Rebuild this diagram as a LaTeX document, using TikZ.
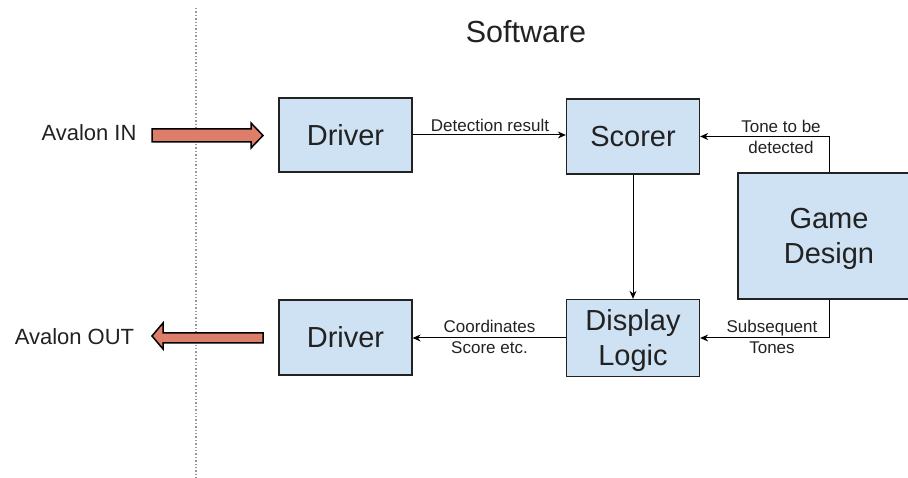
\documentclass[tikz,border=0pt]{standalone}
\usepackage{fontspec}
\setmainfont{Liberation Sans}
\usetikzlibrary{arrows.meta}
\definecolor{boxblue}{HTML}{CFE2F3}
\definecolor{berry}{HTML}{DD7E6B}
\definecolor{ink}{HTML}{222222}
\newcommand\lowtwo[1]{\raisebox{0pt}[\dimexpr\height+7pt\relax][\depth]{\begin{tabular}{@{}c@{}}#1\end{tabular}}}
\begin{document}
\begin{tikzpicture}[x=1pt,y=1pt,
  blk/.style={draw=ink,line width=1.3pt,fill=boxblue,inner sep=0pt,align=center,
    text=ink,font=\fontsize{29}{35}\selectfont,minimum width=133pt,minimum height=75pt},
  lbl/.style={inner sep=0pt,align=center,text=ink,font=\fontsize{17}{21}\selectfont},
  big/.style={inner sep=0pt,text=ink,font=\fontsize{22}{26}\selectfont},
  conn/.style={draw=black,line width=1pt,-{Stealth[length=8pt,width=7pt]}},
  fat/.style={draw=black,line width=1.5pt,fill=berry,line join=miter}]
\clip (0,0) rectangle (908,478);
\fill[white] (0,0) rectangle (908,478);
% dotted separator
\draw[draw=gray!80,line width=1.4pt,dash pattern=on 1.4pt off 2pt] (196,478-8) -- (196,0);
% title
\node[inner sep=0pt,text=ink,font=\fontsize{30.5}{36}\selectfont] (title) at (526,446) {Software};
% boxes
\node[blk,minimum height=74pt] (drv1) at (345.5,343) {Driver};
\node[blk] (scorer) at (633,341.5) {Scorer};
\node[blk,minimum width=182pt,minimum height=126pt] (game) at (829,242) {\lowtwo{Game\\Design}};
\node[blk] (drv2) at (345.5,140.5) {Driver};
\node[blk,minimum height=76pt] (disp) at (633,140) {\lowtwo{Display\\Logic}};
% connectors
\draw[conn] (drv1.east) -- (drv1.east -| scorer.west);
\draw[conn] (game.north) |- (scorer.east);
\draw[conn] (scorer.south) -- (disp.north);
\draw[conn] (game.south) |- (disp.east);
\draw[conn] (disp.west) -- (disp.west -| drv2.east);
% labels
\node[lbl] (l1) at (490,353) {Detection result};
\node[lbl] (l2) at (781,341.5) {Tone to be\\detected};
\node[lbl] (l3) at (489.5,141) {Coordinates\\Score etc.};
\node[lbl] (l4) at (772,141) {Subsequent\\Tones};
% avalon
\node[big] (ain) at (89,345) {Avalon IN};
\node[big] (aout) at (74.5,141.5) {Avalon OUT};
\draw[fat] (152,349) -- (251,349) -- (251,355) -- (263,342.5) -- (251,330) -- (251,336) -- (152,336) -- cycle;
\draw[fat] (263,145) -- (163,145) -- (163,155) -- (152,142) -- (163,129) -- (163,135) -- (263,135) -- cycle;
\end{tikzpicture}
\end{document}
